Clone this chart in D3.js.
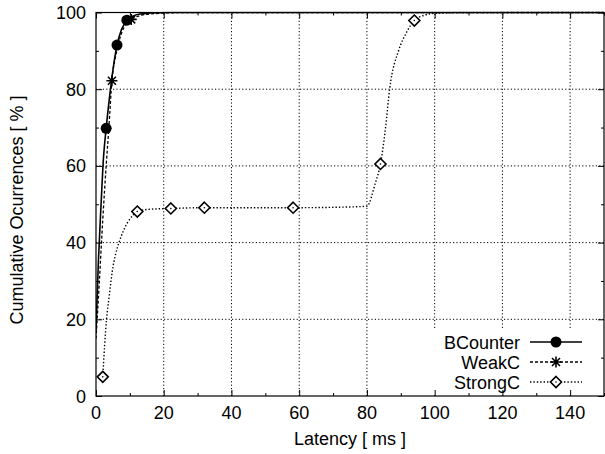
<!DOCTYPE html>
<html><head><meta charset="utf-8">
<script src="https://cdn.jsdelivr.net/npm/d3@7"></script>
<style>
body{margin:0;background:#fff;}
svg{display:block;font-family:"Liberation Sans",Arial,Helvetica,sans-serif;}
</style></head>
<body><svg id="c" width="605" height="454"></svg>
<script>
// ---- data ----
const seriesNames = ["BCounter", "WeakC", "StrongC"];
// dense curve points [latency ms, cumulative %]
const bcounterCurve = [[0,17],[0.7,35],[1.5,50],[2.2,62],[3,69.8],[4,78],[5,85],[6.2,91.5],[7.5,95.5],[9.1,98],[11,99.1],[13,99.6],[16,99.85],[22,100],[150,100]];
const weakcCurve = [[0,15],[1,30],[2,46],[3,60],[3.8,70],[4.7,82.2],[6,89.5],[7.5,94.5],[9,97.2],[10.4,98.2],[13,99.2],[17,99.7],[25,99.95],[150,100]];
const strongcCurve = [[2,5],[3.1,20],[3.9,26],[4.8,32.5],[5.8,37],[6.9,40.3],[8.2,43.3],[9.6,45.6],[11,47.2],[12.2,48.1],[16,48.7],[22.1,48.9],[32,49.1],[58.2,49.1],[75,49.3],[80,49.5],[82.5,55.6],[84,60.5],[85.5,70],[86.7,80],[89.4,90.2],[91.5,94.5],[94,97.9],[97,99.3],[100,99.8],[110,100],[150,100]];
// marker points
const bcounterMarks = [[3,69.8],[6.2,91.5],[9.1,98]];
const weakcMarks = [[4.7,82.2],[10.4,98.2]];
const strongcMarks = [[2,5],[12.2,48.1],[22.1,48.9],[32,49.1],[58.2,49.1],[84,60.5],[94,97.9]];
// axes
const xMajorTicks = [0,20,40,60,80,100,120,140];
const xMinorTicks = [10,30,50,70,90,110,130,150];
const yMajorTicks = [0,20,40,60,80,100];
const yMinorTicks = [10,30,50,70,90];
const xLabel = "Latency [ ms ]";
const yLabel = "Cumulative Ocurrences [ % ]";

// ---- layout ----
const L = 96, R = 604, T = 12.5, B = 396;
const svg = d3.select("#c");
const x = d3.scaleLinear().domain([0,150]).range([L,R]);
const y = d3.scaleLinear().domain([0,100]).range([B,T]);
const W = R-L, H = B-T;
const fs = 18;

// grid
const grid = svg.append("g").attr("stroke","#000").attr("stroke-width",1).attr("stroke-dasharray","1.2,2.2");
grid.selectAll(".gx").data(xMajorTicks.filter(d=>d>0)).join("line")
  .attr("x1",d=>x(d)).attr("x2",d=>x(d)).attr("y1",B).attr("y2",T);
grid.selectAll(".gy").data(yMajorTicks.filter(d=>d>0&&d<100)).join("line")
  .attr("x1",L).attr("x2",R).attr("y1",d=>y(d)).attr("y2",d=>y(d));

// legend background (blanks grid)
svg.append("rect").attr("x",430).attr("y",329).attr("width",R-431).attr("height",B-330).attr("fill","#fff");

// axes with inward ticks on all four sides
function addAxis(gen, transform, major, minor){
  const gM = svg.append("g").attr("transform",transform)
    .call(gen.tickValues(major).tickSizeInner(-6).tickSizeOuter(0));
  gM.select(".domain").remove();
  gM.selectAll("text").remove();
  const gm = svg.append("g").attr("transform",transform)
    .call(gen.tickValues(minor).tickSizeInner(-3).tickSizeOuter(0).tickFormat(""));
  gm.select(".domain").remove();
}
addAxis(d3.axisBottom(x), `translate(0,${B})`, xMajorTicks, xMinorTicks);
addAxis(d3.axisTop(x), `translate(0,${T})`, xMajorTicks, xMinorTicks);
addAxis(d3.axisLeft(y), `translate(${L},0)`, yMajorTicks, yMinorTicks);
addAxis(d3.axisRight(y), `translate(${R},0)`, yMajorTicks, yMinorTicks);

// tick labels
svg.append("g").selectAll("text").data(xMajorTicks).join("text")
  .attr("x",d=>x(d)).attr("y",B+23).attr("text-anchor","middle")
  .attr("font-size",fs).text(d=>d);
svg.append("g").selectAll("text").data(yMajorTicks).join("text")
  .attr("x",L-10).attr("y",d=>y(d)+6.5).attr("text-anchor","end")
  .attr("font-size",fs).text(d=>d);

// border
svg.append("rect").attr("x",L).attr("y",T).attr("width",W).attr("height",H)
  .attr("fill","none").attr("stroke","#000").attr("stroke-width",1.2);

// axis titles
svg.append("text").attr("x",(L+R)/2).attr("y",445).attr("text-anchor","middle")
  .attr("font-size",fs).text(xLabel);
svg.append("text").attr("transform","translate(23,210) rotate(-90)").attr("text-anchor","middle")
  .attr("font-size",fs).text(yLabel);

// curves
const line = d3.line().x(d=>x(d[0])).y(d=>y(d[1])).curve(d3.curveMonotoneX);
const styles = [
  {curve:bcounterCurve, marks:bcounterMarks, dash:null, w:1.6, sym:"circle"},
  {curve:weakcCurve, marks:weakcMarks, dash:"3,2", w:1.3, sym:"star"},
  {curve:strongcCurve, marks:strongcMarks, dash:"1.4,2", w:1.4, sym:"diamond"}
];
svg.append("clipPath").attr("id","pc").append("rect")
  .attr("x",L).attr("y",T-1).attr("width",W).attr("height",H+1);

function drawSym(g, sym, cx, cy){
  if(sym==="circle"){
    g.append("circle").attr("cx",cx).attr("cy",cy).attr("r",5.5).attr("fill","#000");
  } else if(sym==="star"){
    const s=5.5, d=4;
    const p = `M${cx-s},${cy}L${cx+s},${cy}M${cx},${cy-s}L${cx},${cy+s}M${cx-d},${cy-d}L${cx+d},${cy+d}M${cx-d},${cy+d}L${cx+d},${cy-d}`;
    g.append("path").attr("d",p).attr("stroke","#000").attr("stroke-width",1.6).attr("fill","none");
  } else {
    const s=5.5;
    g.append("path").attr("d",`M${cx},${cy-s}L${cx+s},${cy}L${cx},${cy+s}L${cx-s},${cy}Z`)
      .attr("stroke","#000").attr("stroke-width",1.6).attr("fill","#fff");
  }
}
styles.forEach(st=>{
  svg.append("path").datum(st.curve).attr("d",line).attr("clip-path","url(#pc)")
    .attr("fill","none").attr("stroke","#000").attr("stroke-width",st.w)
    .attr("stroke-dasharray",st.dash);
});
styles.slice().reverse().forEach(st=>{
  const g = svg.append("g");
  st.marks.forEach(m=>drawSym(g, st.sym, x(m[0]), y(m[1])));
});
// dot inside diamonds (line passes through)
svg.append("g").selectAll("circle").data(strongcMarks).join("circle")
  .attr("cx",d=>x(d[0])).attr("cy",d=>y(d[1])).attr("r",0.8).attr("fill","#000");

// legend
const lg = svg.append("g");
styles.forEach((st,i)=>{
  const yy = 342 + i*20;
  lg.append("text").attr("x",520).attr("y",yy+6.5).attr("text-anchor","end")
    .attr("font-size",fs).text(seriesNames[i]);
  lg.append("line").attr("x1",530).attr("x2",582).attr("y1",yy).attr("y2",yy)
    .attr("stroke","#000").attr("stroke-width",st.w).attr("stroke-dasharray",st.dash);
  drawSym(lg, st.sym, 556, yy);
  if(st.sym==="diamond") lg.append("circle").attr("cx",556).attr("cy",yy).attr("r",0.8).attr("fill","#000");
});
</script></body></html>
